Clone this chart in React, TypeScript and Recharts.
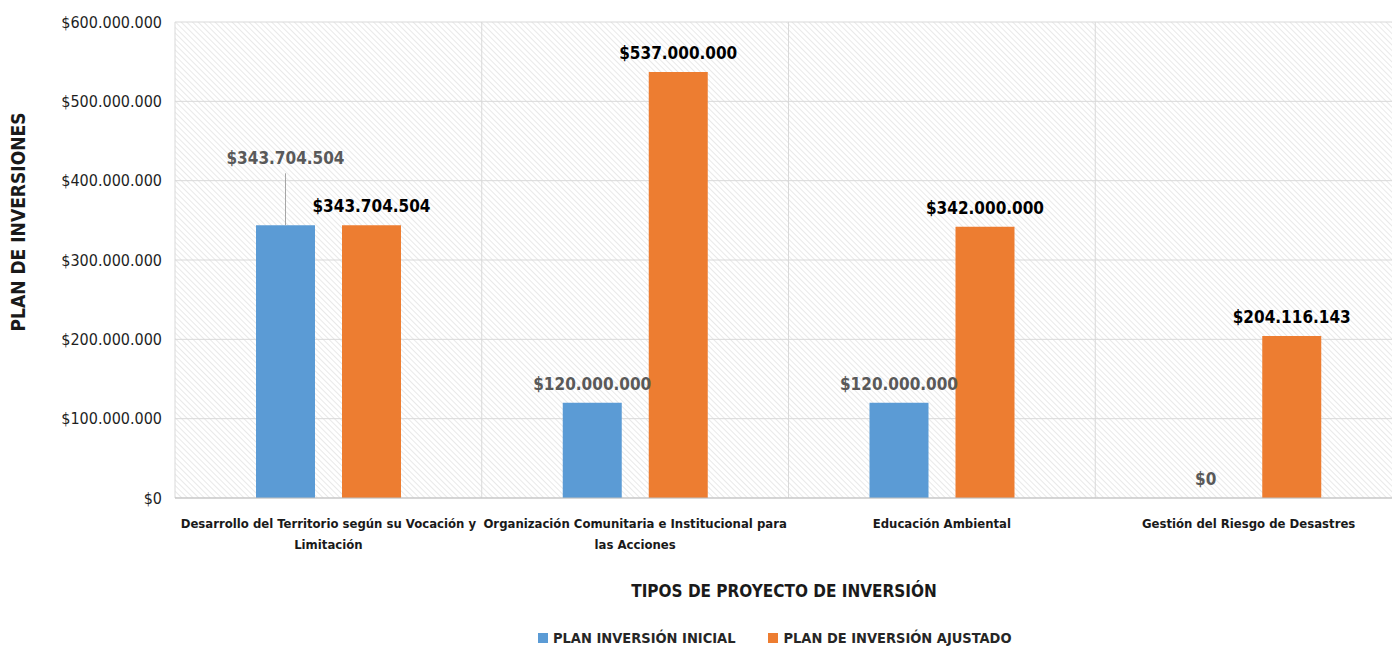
import React from "react"
import {
  BarChart, Bar, XAxis, YAxis, CartesianGrid, Legend, LabelList, Label,
} from "recharts"

const FONT = "'Liberation Sans Narrow', 'DejaVu Sans Condensed', 'Open Sans', sans-serif"
const BLUE = "#5B9BD5"
const ORANGE = "#ED7D31"
const BLUE_LABEL = "#595959"

const categories = [
  "Desarrollo del Territorio según su Vocación y Limitación",
  "Organización Comunitaria e Institucional para las Acciones",
  "Educación Ambiental",
  "Gestión del Riesgo de Desastres",
]
const categoryLines = [
  ["Desarrollo del Territorio según su Vocación y", "Limitación"],
  ["Organización Comunitaria e Institucional para", "las Acciones"],
  ["Educación Ambiental"],
  ["Gestión del Riesgo de Desastres"],
]
const inicial = [343704504, 120000000, 120000000, 0]
const ajustado = [343704504, 537000000, 342000000, 204116143]
const yTicks = [0, 100000000, 200000000, 300000000, 400000000, 500000000, 600000000]

const data = categories.map((name, i) => ({ name, inicial: inicial[i], ajustado: ajustado[i] }))

const BAR_SIZE = 59
const BAR_GAP = 27

function money(v: number) {
  return "$" + String(Math.round(v)).replace(/\B(?=(\d{3})+(?!\d))/g, ".")
}

function CategoryTick(props: any) {
  const { x, y, payload } = props
  const lines = categoryLines[categories.indexOf(payload.value)] || [payload.value]
  return (
    <text x={x} y={y} textAnchor="middle" fontFamily={FONT} fontSize={13} fontWeight="bold" fill="#1a1a1a">
      {lines.map((l, i) => (
        <tspan key={i} x={x} dy={i === 0 ? 28 : 21}>{l}</tspan>
      ))}
    </text>
  )
}

function valueText(cx: number, y: number, value: number, color: string) {
  return (
    <text x={cx} y={y} textAnchor="middle" fontFamily={FONT} fontSize={17} fontWeight="bold" fill={color}>
      {money(value)}
    </text>
  )
}

function blueLabel(props: any) {
  const { x, y, width, value, index } = props
  const cx = Number(x) + Number(width) / 2
  const top = Number(y)
  if (index === 0) {
    return (
      <g>
        <line x1={cx} x2={cx} y1={top - 52} y2={top} stroke="#a6a6a6" strokeWidth={1} />
        {valueText(cx, top - 61, value, BLUE_LABEL)}
      </g>
    )
  }
  return valueText(cx, top - 13, value, BLUE_LABEL)
}

function orangeLabel(props: any) {
  const { x, y, width, height, value, index } = props
  const cx = Number(x) + Number(width) / 2
  const top = Number(y)
  const base = top + Number(height)
  return (
    <g>
      {valueText(cx, top - 13, value, "#000000")}
      {/* zero-height blue bars get no label of their own, so draw it here */}
      {inicial[index] === 0 && valueText(cx - BAR_SIZE - BAR_GAP, base - 13, inicial[index], BLUE_LABEL)}
    </g>
  )
}

function LegendContent() {
  const items = [
    { label: "PLAN INVERSIÓN INICIAL", color: BLUE },
    { label: "PLAN DE INVERSIÓN AJUSTADO", color: ORANGE },
  ]
  return (
    <div style={{ height: 30, paddingTop: 12, paddingLeft: 538, boxSizing: "border-box", display: "flex", gap: 33, fontFamily: FONT, fontSize: 14.5, fontWeight: "bold", color: "#262626", lineHeight: "18px" }}>
      {items.map((it) => (
        <div key={it.label} style={{ display: "flex", alignItems: "center" }}>
          <span style={{ width: 10, height: 10, background: it.color, display: "inline-block", marginRight: 5 }} />
          <span>{it.label}</span>
        </div>
      ))}
    </div>
  )
}

export default function App() {
  return (
    <div style={{ position: "absolute", left: 0, top: 0, width: 1392, height: 647, background: "#fff", overflow: "hidden" }}>
      <BarChart
        width={1404}
        height={647}
        data={data}
        margin={{ top: 22, right: 2, left: 0, bottom: 0 }}
        barSize={BAR_SIZE}
        barGap={BAR_GAP}
      >
        <defs>
          <pattern id="hatch" patternUnits="userSpaceOnUse" width={4} height={4} patternTransform="rotate(-45)">
            <rect width={4} height={4} fill="#ffffff" />
            <line x1={0} y1={0} x2={0} y2={4} stroke="#e2e2e2" strokeWidth={1.5} />
          </pattern>
        </defs>
        <CartesianGrid
          fill="url(#hatch)"
          fillOpacity={1}
          stroke="#d9d9d9"
          verticalCoordinatesGenerator={({ offset }: any) =>
            categories.map((_, i) => offset.left + (i * offset.width) / categories.length)
          }
        />
        <XAxis
          dataKey="name"
          height={119}
          tickLine={false}
          tickSize={0}
          axisLine={{ stroke: "#bfbfbf" }}
          tick={<CategoryTick />}
          interval={0}
        >
          <Label
            content={({ viewBox }: any) => (
              <text x={784} y={viewBox.y + 99} textAnchor="middle" fontFamily={FONT} fontSize={17} fontWeight="bold" fill="#1a1a1a">
                TIPOS DE PROYECTO DE INVERSIÓN
              </text>
            )}
          />
        </XAxis>
        <YAxis
          width={175}
          domain={[0, 600000000]}
          ticks={yTicks}
          tickFormatter={money}
          axisLine={false}
          tickLine={false}
          tickSize={0}
          tickMargin={13}
          tick={{ fontFamily: FONT, fontSize: 16, fill: "#1f1f1f" }}
        >
          <Label
            content={({ viewBox }: any) => (
              <text x={viewBox.x + 25} y={viewBox.y + 200} transform={`rotate(-90 ${viewBox.x + 25} ${viewBox.y + 200})`} textAnchor="middle" fontFamily={FONT} fontSize={19} fontWeight="bold" fill="#1a1a1a">
                PLAN DE INVERSIONES
              </text>
            )}
          />
        </YAxis>
        <Legend verticalAlign="bottom" content={<LegendContent />} />
        <Bar dataKey="inicial" name="PLAN INVERSIÓN INICIAL" fill={BLUE} isAnimationActive={false}>
          <LabelList dataKey="inicial" content={blueLabel} />
        </Bar>
        <Bar dataKey="ajustado" name="PLAN DE INVERSIÓN AJUSTADO" fill={ORANGE} isAnimationActive={false}>
          <LabelList dataKey="ajustado" content={orangeLabel} />
        </Bar>
      </BarChart>
    </div>
  )
}
